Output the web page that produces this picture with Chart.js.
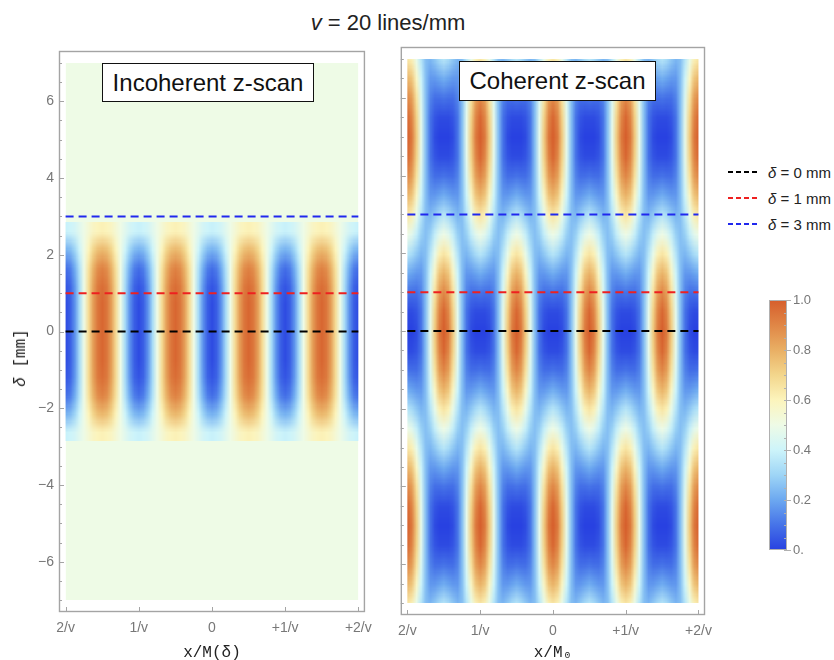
<!DOCTYPE html>
<html>
<head>
<meta charset="utf-8">
<script src="https://cdn.jsdelivr.net/npm/chart.js@4.4.1/dist/chart.umd.min.js"></script>
<style>
  body { margin: 0; width: 834px; height: 660px; position: relative; background: #fff; overflow: hidden;
         font-family: 'Liberation Sans', Arial, sans-serif; color: #222; }
  canvas { position: absolute; }
  #title { position: absolute; left: 0; width: 776px; top: 10px; text-align: center; font-size: 22px; line-height: 26px; }
  .box { position: absolute; border: 1px solid #111; background: #fff; font-size: 24px; color: #111;
         display: flex; align-items: center; justify-content: center; box-sizing: border-box; }
  .leg { position: absolute; left: 728px; height: 20px; display: flex; align-items: center; font-size: 15px; white-space: nowrap; }
  .leg span { display: inline-block; width: 29px; height: 2px; margin-right: 11px; }
  #ytitle { position: absolute; left: 21px; top: 358px; transform: translate(-50%, -50%) rotate(-90deg);
            font-family: 'Liberation Mono', monospace; font-size: 16px; white-space: nowrap; }
</style>
</head>
<body>
<div id="title"><i>v</i> = 20 lines/mm</div>
<canvas id="inco" width="380" height="660" style="left:0;top:0"></canvas>
<canvas id="coh" width="330" height="660" style="left:390px;top:0"></canvas>
<canvas id="cbar" width="74" height="290" style="left:760px;top:280px"></canvas>
<div class="box" style="left:102px;top:63px;width:212px;height:39px">Incoherent z-scan</div>
<div class="box" style="left:459px;top:61px;width:197px;height:40px">Coherent z-scan</div>
<div class="leg" style="top:162px"><span style="background:repeating-linear-gradient(to right,#000 0 5px,transparent 5px 8px)"></span><i>δ</i>&nbsp;= 0 mm</div>
<div class="leg" style="top:188px"><span style="background:repeating-linear-gradient(to right,#ee2020 0 5px,transparent 5px 8px)"></span><i>δ</i>&nbsp;= 1 mm</div>
<div class="leg" style="top:214px"><span style="background:repeating-linear-gradient(to right,#2028ee 0 5px,transparent 5px 8px)"></span><i>δ</i>&nbsp;= 3 mm</div>
<div id="ytitle"><i>δ</i>&nbsp;[mm]</div>
<script>
// axes
const xRange = [-2, 2];
const deltaRange = [-7, 7];
const xTickValues = [-2, -1, 0, 1, 2];
const xTickLabels = ['2/v', '1/v', '0', '+1/v', '+2/v'];
const yTickValues = [-7, -6.5, -6, -5.5, -5, -4.5, -4, -3.5, -3, -2.5, -2, -1.5, -1, -0.5, 0,
                     0.5, 1, 1.5, 2, 2.5, 3, 3.5, 4, 4.5, 5, 5.5, 6, 6.5, 7];
const yMajorValues = [-6, -4, -2, 0, 2, 4, 6];
const yMajorLabels = ['−6', '−4', '−2', '0', '2', '4', '6'];

// dashed lines (delta in mm)
const lineDeltas = [0, 1, 3];

// incoherent z-scan: rows of intensity across half a period (x = 0, 1/16 ... 8/16 of 1/v)
const incoDelta = [-2.61, -2.14, -1.66, -1.19, -0.71, -0.24, 0.24, 0.71, 1.19, 1.66, 2.14, 2.61];
const incoProfiles = [
  [0.39, 0.40, 0.42, 0.46, 0.50, 0.54, 0.58, 0.60, 0.61],
  [0.22, 0.24, 0.30, 0.40, 0.50, 0.60, 0.70, 0.76, 0.78],
  [0.09, 0.12, 0.21, 0.34, 0.50, 0.66, 0.79, 0.88, 0.91],
  [0.04, 0.07, 0.17, 0.32, 0.50, 0.68, 0.83, 0.93, 0.96],
  [0.02, 0.06, 0.16, 0.32, 0.50, 0.68, 0.84, 0.94, 0.98],
  [0.02, 0.06, 0.16, 0.32, 0.50, 0.68, 0.84, 0.94, 0.98],
  [0.02, 0.06, 0.16, 0.32, 0.50, 0.68, 0.84, 0.94, 0.98],
  [0.02, 0.06, 0.16, 0.32, 0.50, 0.68, 0.84, 0.94, 0.98],
  [0.04, 0.07, 0.17, 0.32, 0.50, 0.68, 0.83, 0.93, 0.96],
  [0.09, 0.12, 0.21, 0.34, 0.50, 0.66, 0.79, 0.88, 0.91],
  [0.22, 0.24, 0.30, 0.40, 0.50, 0.60, 0.70, 0.76, 0.78],
  [0.39, 0.40, 0.42, 0.46, 0.50, 0.54, 0.58, 0.60, 0.61]
];
const incoOuter = 0.5;

// coherent z-scan
const cohDelta = [-7, -6.5, -6, -5.5, -5, -4.5, -4, -3.5, -3, -2.5, -2, -1.5, -1, -0.5, 0,
                  0.5, 1, 1.5, 2, 2.5, 3, 3.5, 4, 4.5, 5, 5.5, 6, 6.5, 7];
const cohProfiles = [
  [0.65, 0.61, 0.48, 0.35, 0.25, 0.23, 0.27, 0.32, 0.35],
  [0.79, 0.74, 0.58, 0.40, 0.25, 0.17, 0.17, 0.19, 0.21],
  [0.90, 0.84, 0.66, 0.44, 0.25, 0.13, 0.09, 0.09, 0.10],
  [0.98, 0.90, 0.71, 0.47, 0.25, 0.10, 0.04, 0.02, 0.02],
  [1.00, 0.93, 0.73, 0.48, 0.25, 0.10, 0.02, 0.00, 0.00],
  [0.98, 0.90, 0.71, 0.47, 0.25, 0.10, 0.04, 0.02, 0.02],
  [0.90, 0.84, 0.66, 0.44, 0.25, 0.13, 0.09, 0.09, 0.10],
  [0.79, 0.74, 0.58, 0.40, 0.25, 0.17, 0.17, 0.19, 0.21],
  [0.65, 0.61, 0.48, 0.35, 0.25, 0.23, 0.27, 0.32, 0.35],
  [0.50, 0.46, 0.38, 0.29, 0.25, 0.29, 0.38, 0.46, 0.50],
  [0.35, 0.32, 0.27, 0.23, 0.25, 0.35, 0.48, 0.61, 0.65],
  [0.21, 0.19, 0.17, 0.17, 0.25, 0.40, 0.58, 0.74, 0.79],
  [0.10, 0.09, 0.09, 0.13, 0.25, 0.44, 0.66, 0.84, 0.90],
  [0.02, 0.02, 0.04, 0.10, 0.25, 0.47, 0.71, 0.90, 0.98],
  [0.00, 0.00, 0.02, 0.10, 0.25, 0.48, 0.73, 0.93, 1.00],
  [0.02, 0.02, 0.04, 0.10, 0.25, 0.47, 0.71, 0.90, 0.98],
  [0.10, 0.09, 0.09, 0.13, 0.25, 0.44, 0.66, 0.84, 0.90],
  [0.21, 0.19, 0.17, 0.17, 0.25, 0.40, 0.58, 0.74, 0.79],
  [0.35, 0.32, 0.27, 0.23, 0.25, 0.35, 0.48, 0.61, 0.65],
  [0.50, 0.46, 0.38, 0.29, 0.25, 0.29, 0.38, 0.46, 0.50],
  [0.65, 0.61, 0.48, 0.35, 0.25, 0.23, 0.27, 0.32, 0.35],
  [0.79, 0.74, 0.58, 0.40, 0.25, 0.17, 0.17, 0.19, 0.21],
  [0.90, 0.84, 0.66, 0.44, 0.25, 0.13, 0.09, 0.09, 0.10],
  [0.98, 0.90, 0.71, 0.47, 0.25, 0.10, 0.04, 0.02, 0.02],
  [1.00, 0.93, 0.73, 0.48, 0.25, 0.10, 0.02, 0.00, 0.00],
  [0.98, 0.90, 0.71, 0.47, 0.25, 0.10, 0.04, 0.02, 0.02],
  [0.90, 0.84, 0.66, 0.44, 0.25, 0.13, 0.09, 0.09, 0.10],
  [0.79, 0.74, 0.58, 0.40, 0.25, 0.17, 0.17, 0.19, 0.21],
  [0.65, 0.61, 0.48, 0.35, 0.25, 0.23, 0.27, 0.32, 0.35]
];

// colour bar
const cbTickValues = [0, 0.05, 0.1, 0.15, 0.2, 0.25, 0.3, 0.35, 0.4, 0.45, 0.5,
                      0.55, 0.6, 0.65, 0.7, 0.75, 0.8, 0.85, 0.9, 0.95, 1];
const cbMajorValues = [0, 0.2, 0.4, 0.6, 0.8, 1];
const cbMajorLabels = ['0.', '0.2', '0.4', '0.6', '0.8', '1.0'];

// styles
const lineColors = ['#000000', '#ee2020', '#2028ee'];
const cmapStops = [
  [0.0, [40, 65, 225]], [0.1, [70, 115, 232]], [0.2, [108, 168, 240]], [0.3, [158, 213, 246]],
  [0.4, [205, 244, 250]], [0.5, [238, 251, 230]], [0.6, [252, 244, 188]], [0.7, [243, 214, 140]],
  [0.8, [233, 175, 100]], [0.9, [224, 134, 70]], [1.0, [214, 94, 44]]
];
const frameColor = '#a4a4a4';
const tickColor = '#777';

Chart.defaults.font.family = "'Liberation Sans', Arial, sans-serif";

function cmap(v) {
  v = Math.max(0, Math.min(1, v));
  for (let i = 1; i < cmapStops.length; i++) {
    if (v <= cmapStops[i][0]) {
      const [a, ca] = cmapStops[i - 1], [b, cb] = cmapStops[i];
      const t = (v - a) / (b - a);
      return ca.map((c, j) => Math.round(c + (cb[j] - c) * t));
    }
  }
  return cmapStops[cmapStops.length - 1][1];
}

// one pixel per sample: 65 columns (x from -2 to 2 in 1/16 steps), rows top = highest delta
function buildImage(profiles) {
  const rows = profiles.length, cols = 65;
  const c = document.createElement('canvas');
  c.width = cols; c.height = rows;
  const g = c.getContext('2d');
  const img = g.createImageData(cols, rows);
  for (let r = 0; r < rows; r++) {
    const prof = profiles[rows - 1 - r];
    for (let j = 0; j < cols; j++) {
      const k = j - 32;
      const p = ((k % 16) + 16) % 16;
      const col = cmap(prof[Math.min(p, 16 - p)]);
      const o = (r * cols + j) * 4;
      img.data[o] = col[0]; img.data[o + 1] = col[1]; img.data[o + 2] = col[2]; img.data[o + 3] = 255;
    }
  }
  g.putImageData(img, 0, 0);
  return c;
}

function drawField(chart, img, deltas, outer) {
  const { ctx, scales: { x, y } } = chart;
  const L = x.getPixelForValue(xRange[0]), R = x.getPixelForValue(xRange[1]);
  const T = y.getPixelForValue(deltaRange[1]), B = y.getPixelForValue(deltaRange[0]);
  ctx.save();
  ctx.beginPath();
  ctx.rect(L, T, R - L, B - T);
  ctx.clip();
  if (outer !== null) {
    const c = cmap(outer);
    ctx.fillStyle = `rgb(${c[0]},${c[1]},${c[2]})`;
    ctx.fillRect(L, T, R - L, B - T);
  }
  const dx = 1 / 32;
  const dd = (deltas[deltas.length - 1] - deltas[0]) / (deltas.length - 1) / 2;
  const x0 = x.getPixelForValue(xRange[0] - dx), x1 = x.getPixelForValue(xRange[1] + dx);
  const y0 = y.getPixelForValue(deltas[deltas.length - 1] + dd), y1 = y.getPixelForValue(deltas[0] - dd);
  ctx.imageSmoothingEnabled = true;
  ctx.imageSmoothingQuality = 'low';
  ctx.drawImage(img, x0, y0, x1 - x0, y1 - y0);
  ctx.restore();
}

function frameAndTicks(chart) {
  const { ctx, chartArea: a, scales: { x, y } } = chart;
  ctx.save();
  ctx.strokeStyle = frameColor;
  ctx.lineWidth = 1;
  y.ticks.forEach(t => {
    const py = Math.round(y.getPixelForValue(t.value)) + 0.5;
    const len = yMajorValues.includes(t.value) ? 5 : 3;
    ctx.beginPath(); ctx.moveTo(a.left, py); ctx.lineTo(a.left + len, py); ctx.stroke();
  });
  x.ticks.forEach(t => {
    const px = Math.round(x.getPixelForValue(t.value)) + 0.5;
    ctx.beginPath(); ctx.moveTo(px, a.bottom); ctx.lineTo(px, a.bottom - 5); ctx.stroke();
  });
  ctx.lineWidth = 1.4;
  ctx.strokeRect(a.left + 0.5, a.top + 0.5, a.right - a.left - 1, a.bottom - a.top - 1);
  ctx.restore();
}

function lineSets() {
  return lineDeltas.map((d, i) => ({
    data: [{ x: xRange[0], y: d }, { x: xRange[1], y: d }],
    borderColor: lineColors[i], borderWidth: 2, borderDash: [8, 5],
    pointRadius: 0, showLine: true, fill: false
  }));
}

function panel(id, img, deltas, outer, xTitle, showY, yWidth, xHeight, padTop, padRight) {
  return new Chart(document.getElementById(id), {
    type: 'scatter',
    data: { datasets: lineSets() },
    options: {
      responsive: false, animation: false,
      layout: { padding: { top: padTop, right: padRight, left: 0, bottom: 0 } },
      plugins: { legend: { display: false }, tooltip: { enabled: false } },
      scales: {
        x: {
          type: 'linear', min: -2.09, max: 2.09,
          grid: { display: false, drawTicks: false }, border: { display: false },
          afterBuildTicks: s => { s.ticks = xTickValues.map(v => ({ value: v })); },
          afterFit: s => { s.height = xHeight; },
          ticks: { autoSkip: false, maxRotation: 0, padding: 8, color: tickColor, font: { size: 14 },
                   callback: v => xTickLabels[xTickValues.indexOf(v)] },
          title: { display: true, text: xTitle, color: '#222', padding: { top: 0, bottom: -2 },
                   font: { family: "'Liberation Mono', monospace", size: 16 } }
        },
        y: {
          type: 'linear', min: -7.31, max: 7.31,
          grid: { display: false, drawTicks: false }, border: { display: false },
          afterBuildTicks: s => { s.ticks = yTickValues.map(v => ({ value: v })); },
          afterFit: s => { s.width = yWidth; },
          ticks: { display: showY, autoSkip: false, padding: 5, color: tickColor, font: { size: 14 },
                   callback: v => { const i = yMajorValues.indexOf(v); return i >= 0 ? yMajorLabels[i] : ''; } }
        }
      }
    },
    plugins: [{
      id: 'field',
      beforeDatasetsDraw: c => drawField(c, img, deltas, outer),
      afterDatasetsDraw: c => frameAndTicks(c)
    }]
  });
}

panel('inco', buildImage(incoProfiles), incoDelta, incoOuter, 'x/M(δ)', true, 59, 48, 51, 11);
panel('coh', buildImage(cohProfiles), cohDelta, null, 'x/M₀', false, 8, 45, 47, 8);

// colour bar
new Chart(document.getElementById('cbar'), {
  type: 'scatter',
  data: { datasets: [] },
  options: {
    responsive: false, animation: false,
    layout: { padding: { top: 20, bottom: 20, left: 9, right: 0 } },
    plugins: { legend: { display: false }, tooltip: { enabled: false } },
    scales: {
      x: { display: false, min: 0, max: 1 },
      y: {
        position: 'right', min: 0, max: 1,
        grid: { display: false, drawTicks: false }, border: { display: false },
        afterBuildTicks: s => { s.ticks = cbTickValues.map(v => ({ value: v })); },
        afterFit: s => { s.width = 47; },
        ticks: { autoSkip: false, padding: 6, color: tickColor, font: { size: 13 },
                 callback: v => { const i = cbMajorValues.indexOf(v); return i >= 0 ? cbMajorLabels[i] : ''; } }
      }
    }
  },
  plugins: [{
    id: 'bar',
    afterDraw: c => {
      const { ctx, chartArea: a, scales: { y } } = c;
      const g = ctx.createLinearGradient(0, y.getPixelForValue(0), 0, y.getPixelForValue(1));
      cmapStops.forEach(s => g.addColorStop(s[0], `rgb(${s[1].join(',')})`));
      ctx.save();
      ctx.fillStyle = g;
      ctx.fillRect(a.left, a.top, a.right - a.left, a.bottom - a.top);
      ctx.strokeStyle = '#b0b0b0';
      ctx.lineWidth = 1;
      cbTickValues.forEach(v => {
        const py = Math.round(y.getPixelForValue(v)) + 0.5;
        ctx.beginPath(); ctx.moveTo(a.right - 3, py); ctx.lineTo(a.right, py); ctx.stroke();
        if (cbMajorValues.includes(v)) {
          ctx.beginPath(); ctx.moveTo(a.right, py); ctx.lineTo(a.right + 4, py); ctx.stroke();
        }
      });
      ctx.strokeRect(a.left + 0.5, a.top + 0.5, a.right - a.left - 1, a.bottom - a.top - 1);
      ctx.restore();
    }
  }]
});
</script>
</body>
</html>
